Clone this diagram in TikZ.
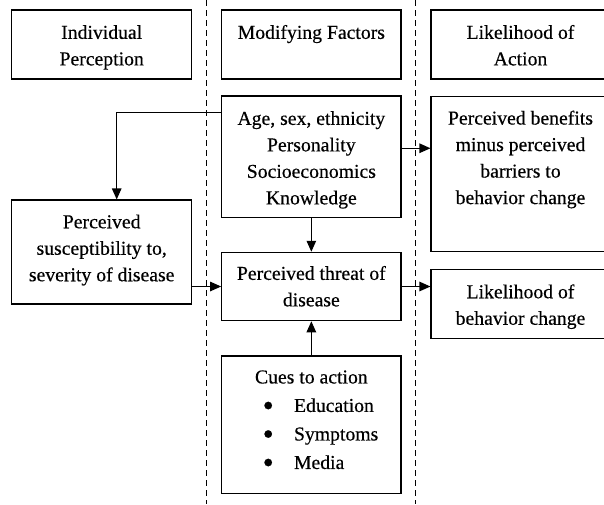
\documentclass[tikz,border=0pt]{standalone}
\usepackage{fontspec}
\setmainfont{Liberation Serif}
\newfontfamily\boxfont[FakeBold=0.4]{Liberation Serif}
\usetikzlibrary{arrows.meta,calc}
\newcommand{\bxc}[5][26.5pt]{\parbox[c][#3][t]{#2}{\boxfont\fontsize{19.7pt}{#1}\selectfont\centering\vspace*{#4}\strut #5}}
\newcommand{\bigbul}{\raisebox{-4pt}{\scalebox{1.6}{\textbullet}}}
\tikzset{
  box/.style={draw=black, line width=1.1pt, inner sep=0pt, rectangle},
  conn/.style={line width=1.1pt, -{Triangle[length=11pt,width=9.5pt]}},
  plain/.style={line width=1.1pt},
  divider/.style={line width=0.9pt, dash pattern=on 6pt off 4pt}
}
\begin{document}
\begin{tikzpicture}[x=1pt,y=-1pt]
\useasboundingbox (0,0) rectangle (604,504);
\clip (0,0) rectangle (604,504);
% dividers
\coordinate (d1t) at (206.7,0);
\coordinate (d1b) at (206.7,504);
\coordinate (d2t) at (415.7,0);
\coordinate (d2b) at (415.7,504);
\draw[divider] (d1t) -- (d1b);
\draw[divider] (d2t) -- (d2b);
% header boxes
\node[box] (ind) at (101.7,44.5) {\bxc{180pt}{69pt}{10.3pt}{Individual\\Perception}};
\node[box] (mod) at (311.35,44.5) {\bxc{179.3pt}{69pt}{10.3pt}{Modifying Factors}};
\node[box] (lik) at (520.5,44.5) {\bxc{179pt}{69pt}{10.3pt}{Likelihood of\\Action}};
% content boxes
\node[box] (age) at (311.35,156.65) {\bxc{179.3pt}{121.3pt}{10.3pt}{Age, sex, ethnicity\\Personality\\Socioeconomics\\Knowledge}};
\node[box] (ben) at (520.5,174.2) {\bxc{179pt}{155pt}{9.3pt}{Perceived benefits\\minus perceived\\barriers to\\behavior change}};
\node[box] (sus) at (101.7,252) {\bxc{180pt}{104pt}{9.7pt}{Perceived\\susceptibility to,\\severity of disease}};
\node[box] (thr) at (311.35,286.5) {\bxc{179.3pt}{68.4pt}{9pt}{Perceived threat of\\disease}};
\node[box] (lbc) at (520.5,303.8) {\bxc{179pt}{69pt}{10.4pt}{Likelihood of\\behavior change}};
\node[box] (cue) at (311.35,424.85) {\bxc[28.5pt]{179.3pt}{137.7pt}{7.5pt}{Cues to action\par\raggedright
  \hspace*{41pt}\makebox[31.3pt][l]{\bigbul}Education\\
  \hspace*{41pt}\makebox[31.3pt][l]{\bigbul}Symptoms\\
  \hspace*{41pt}\makebox[31.3pt][l]{\bigbul}Media}};
% connectors
\draw[plain] ($(age.north west)+(0,17.3)$) -| ($(sus.north)+(15,-20)$);
\draw[conn] ($(sus.north)+(15,-20)$) -- ($(sus.north)+(15,0)$);
\draw[conn] ($(age.east)+(0,-8.4)$) -- (ben.west |- {$(age.east)+(0,-8.4)$});
\draw[conn] (age.south) -- (thr.north);
\draw[conn] (sus.east |- thr.west) -- (thr.west);
\draw[conn] (thr.east) -- (lbc.west |- thr.east);
\draw[conn] (cue.north) -- (thr.south);
\end{tikzpicture}
\end{document}
